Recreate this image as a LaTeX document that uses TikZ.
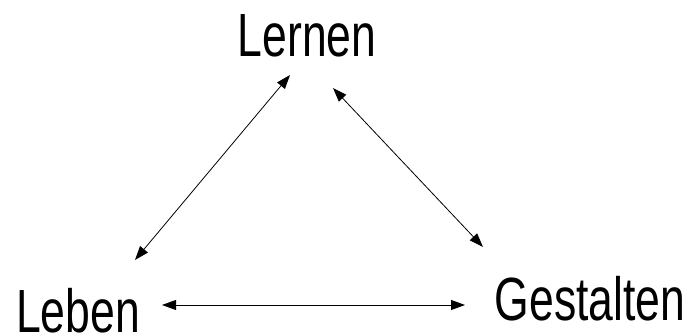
\documentclass[tikz,border=0pt]{standalone}
\usepackage{fontspec}
\setmainfont{Liberation Sans}
\usepackage{tikz}
\usetikzlibrary{arrows.meta}

\begin{document}
\begin{tikzpicture}[x=1pt,y=-1pt,
          word/.style={inner sep=0pt,anchor=base,xscale=0.73,
                       font=\fontsize{61}{61}\selectfont},
          link/.style={line width=0.8pt,
                       {Triangle[length=14pt,width=10pt]}-{Triangle[length=14pt,width=10pt]}},
      ]
        \useasboundingbox (0,0) rectangle (692,336);

        \node[word] (lernen) at (307,57) {Lernen};
        \node[word] (leben) at (78,332) {Leben};
        \node[word] (gestalten) at (590,320) {Gestalten};

        % arrow ends, kept clear of the words
        \coordinate (lernenL) at (290,75);
        \coordinate (lernenR) at (333,88);
        \coordinate (lebenT) at (135,260);
        \coordinate (lebenR) at (162,305);
        \coordinate (gestaltenT) at (483,247);
        \coordinate (gestaltenL) at (465,305);

        \draw[link] (lernenL) -- (lebenT);
        \draw[link] (lernenR) -- (gestaltenT);
        \draw[link] (lebenR) -- (gestaltenL);
      \end{tikzpicture}
\end{document}
